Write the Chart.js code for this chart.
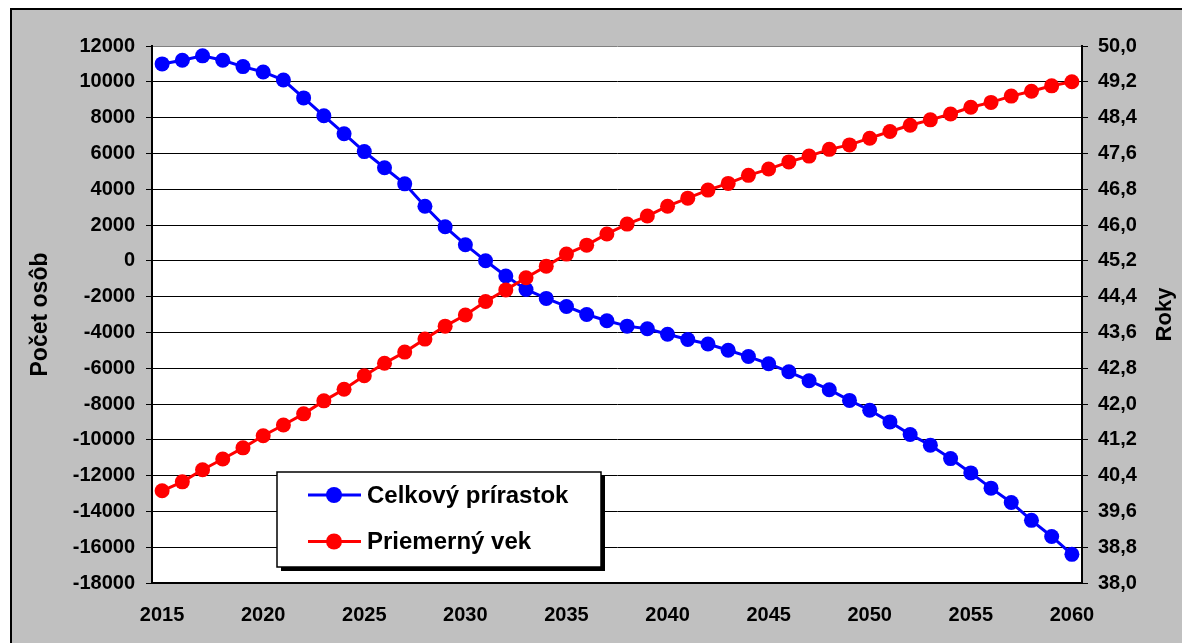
<!DOCTYPE html>
<html><head><meta charset="utf-8">
<script src="https://cdn.jsdelivr.net/npm/chart.js@4/dist/chart.umd.min.js"></script>
<style>html,body{margin:0;padding:0;background:#fff;overflow:hidden}#wrap{position:absolute;left:0;top:0;width:1182px;height:643px}</style>
</head><body><div id="wrap"><canvas id="c" width="1182" height="643"></canvas></div>
<script>
const years = [2015,2016,2017,2018,2019,2020,2021,2022,2023,2024,2025,2026,2027,2028,2029,2030,2031,2032,2033,2034,2035,2036,2037,2038,2039,2040,2041,2042,2043,2044,2045,2046,2047,2048,2049,2050,2051,2052,2053,2054,2055,2056,2057,2058,2059,2060];
const celkovyPrirastok = [11000,11200,11450,11200,10850,10550,10100,9100,8100,7100,6100,5200,4300,3050,1900,900,0,-850,-1600,-2100,-2550,-3000,-3350,-3650,-3800,-4100,-4400,-4650,-5000,-5350,-5750,-6200,-6700,-7200,-7800,-8350,-9000,-9700,-10300,-11050,-11850,-12700,-13500,-14500,-15400,-16400];
const priemernyVek = [40.06,40.26,40.53,40.77,41.02,41.29,41.53,41.78,42.07,42.33,42.63,42.91,43.16,43.45,43.74,43.99,44.29,44.55,44.82,45.08,45.35,45.55,45.80,46.02,46.20,46.42,46.60,46.78,46.93,47.11,47.25,47.41,47.54,47.69,47.79,47.94,48.09,48.23,48.35,48.48,48.63,48.74,48.88,48.99,49.11,49.20];
const seriesNames = ['Celkový prírastok','Priemerný vek'];
const leftTitle = 'Počet osôb';
const rightTitle = 'Roky';
const leftMin = -18000, leftMax = 12000, leftStep = 2000;
const rightMin = 38.0, rightMax = 50.0, rightStep = 0.8;
const xLabelEvery = 5;

const FONT = '"Liberation Sans", Arial, sans-serif';

const deco = {
  id: 'deco',
  beforeDraw(chart) {
    const ctx = chart.ctx, a = chart.chartArea;
    ctx.save();
    ctx.fillStyle = '#ffffff';
    ctx.fillRect(0, 0, chart.width, chart.height);
    ctx.fillStyle = '#c0c0c0';
    ctx.fillRect(10, 8, chart.width - 10, chart.height - 8);
    ctx.strokeStyle = '#000';
    ctx.lineWidth = 2;
    ctx.beginPath();
    ctx.moveTo(11, chart.height + 2);
    ctx.lineTo(11, 9);
    ctx.lineTo(chart.width + 2, 9);
    ctx.stroke();
    ctx.fillStyle = '#ffffff';
    ctx.fillRect(a.left, a.top, a.right - a.left, a.bottom - a.top);
    ctx.restore();
  },
  afterDraw(chart) {
    const ctx = chart.ctx, a = chart.chartArea;
    ctx.save();
    ctx.fillStyle = '#000';
    ctx.textAlign = 'center';
    ctx.textBaseline = 'middle';
    const cy = (a.top + a.bottom) / 2;
    ctx.font = 'bold 23px ' + FONT;
    ctx.save(); ctx.translate(41, cy); ctx.rotate(-Math.PI / 2); ctx.fillText(leftTitle, 0, 0); ctx.restore();
    ctx.font = 'bold 22px ' + FONT;
    ctx.save(); ctx.translate(1165, cy); ctx.rotate(-Math.PI / 2); ctx.fillText(rightTitle, 0, 0); ctx.restore();

    // legend
    const bx = 277, by = 472, bw = 324, bh = 95;
    ctx.fillStyle = '#000';
    ctx.fillRect(bx + 4, by + 4, bw, bh);
    ctx.fillStyle = '#fff';
    ctx.fillRect(bx, by, bw, bh);
    ctx.strokeStyle = '#000';
    ctx.lineWidth = 1.5;
    ctx.strokeRect(bx, by, bw, bh);
    const ys = [495, 541.5];
    const colors = ['#0000ff', '#ff0000'];
    ctx.textAlign = 'left';
    ctx.font = 'bold 24px ' + FONT;
    for (let i = 0; i < 2; i++) {
      ctx.strokeStyle = colors[i];
      ctx.lineWidth = 3;
      ctx.beginPath(); ctx.moveTo(308, ys[i]); ctx.lineTo(361, ys[i]); ctx.stroke();
      ctx.fillStyle = colors[i];
      ctx.beginPath(); ctx.arc(334, ys[i], 8, 0, Math.PI * 2); ctx.fill();
      ctx.fillStyle = '#000';
      ctx.fillText(seriesNames[i], 367, ys[i] + 1);
    }
    ctx.restore();
  }
};

new Chart(document.getElementById('c'), {
  type: 'line',
  data: {
    labels: years,
    datasets: [
      { label: seriesNames[0], data: celkovyPrirastok, yAxisID: 'y', borderColor: '#0000ff', backgroundColor: '#0000ff',
        borderWidth: 3, pointRadius: 7.5, pointHoverRadius: 7.5, pointBorderWidth: 0, tension: 0, order: 2 },
      { label: seriesNames[1], data: priemernyVek, yAxisID: 'y1', borderColor: '#ff0000', backgroundColor: '#ff0000',
        borderWidth: 3, pointRadius: 7.5, pointHoverRadius: 7.5, pointBorderWidth: 0, tension: 0, order: 1 }
    ]
  },
  options: {
    responsive: false,
    animation: false,
    devicePixelRatio: 1,
    layout: { padding: { top: 46, left: 0, right: 0, bottom: 0 } },
    plugins: { legend: { display: false }, tooltip: { enabled: false } },
    scales: {
      x: {
        type: 'category',
        offset: true,
        grid: { display: false, drawTicks: false },
        border: { display: true, color: '#000', width: 2 },
        ticks: {
          autoSkip: false, maxRotation: 0, minRotation: 0, padding: 20,
          color: '#000', font: { family: FONT, size: 20, weight: 'bold' },
          callback: function (v, i) { return (years[i] - years[0]) % xLabelEvery === 0 ? String(years[i]) : null; }
        },
        afterFit(s) { s.height = 60; }
      },
      y: {
        position: 'left',
        min: leftMin, max: leftMax,
        grid: {
          color: (c) => (c.tick && c.tick.value === leftMax) ? '#808080' : '#000',
          tickColor: '#000', lineWidth: 1, tickLength: 6, drawTicks: true
        },
        border: { display: true, color: '#000', width: 2 },
        ticks: { stepSize: leftStep, padding: 11, color: '#000', font: { family: FONT, size: 20, weight: 'bold' },
          callback: (v) => String(v) },
        afterFit(s) { s.width = 152; }
      },
      y1: {
        position: 'right',
        min: rightMin, max: rightMax,
        grid: { drawOnChartArea: false, tickColor: '#000', tickLength: 6, lineWidth: 1 },
        border: { display: true, color: '#000', width: 2 },
        ticks: { stepSize: rightStep, padding: 10, color: '#000', font: { family: FONT, size: 20, weight: 'bold' },
          callback: (v) => Number(v).toFixed(1).replace('.', ',') },
        afterFit(s) { s.width = 100; }
      }
    }
  },
  plugins: [deco]
});
</script>
</body></html>
